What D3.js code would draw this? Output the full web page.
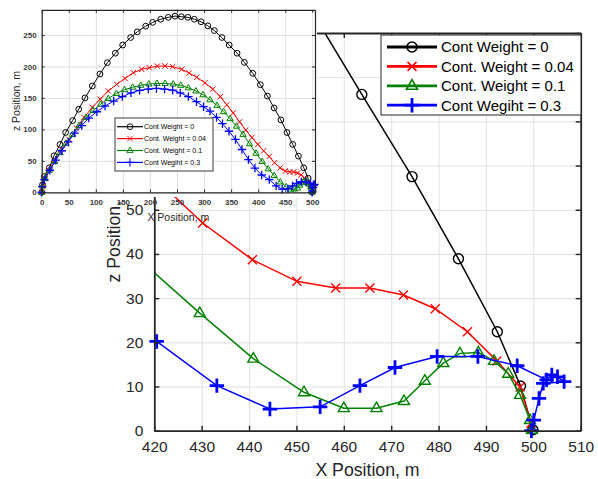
<!DOCTYPE html>
<html>
<head>
<meta charset="utf-8">
<script src="https://cdn.jsdelivr.net/npm/d3@7"></script>
<style>
  body { margin: 0; background: #fff; }
  svg { font-family: "Liberation Sans", Arial, sans-serif; }
</style>
</head>
<body>
<script>
// Trajectoires (x, z) pour chaque poids de contrainte
const blackX = [0, 1.5, 4.8, 14.1, 22.7, 33.8, 44.3, 57.2, 68.4, 80, 93.6, 107.7, 121.3, 136.1, 149.6, 164.4, 176.6, 192.2, 205.1, 219.9, 233.9, 246.3, 258, 270, 282, 294.5, 307, 319, 333, 346.5, 361, 374.5, 390, 404, 417, 429.5, 442, 453.2, 463.8, 474.4, 484.2, 492.4, 497.3, 499.9]
const blackZ = [0, 12, 25, 39, 58, 76, 95, 114, 132, 150, 169, 188, 206, 221, 234, 246, 255, 264, 270, 275, 278, 280, 279, 278, 275, 271, 264.5, 257, 246, 234, 221, 206.5, 189, 171, 153, 134, 115, 95, 76.1, 57.5, 38.9, 22.4, 10.1, 0.2]

const redX = [0, 2, 6, 13, 24.6, 37, 50.4, 64.6, 78.2, 93.6, 108, 123, 138.6, 154, 169.3, 184.8, 198.8, 213.6, 227.8, 242, 258.7, 272.5, 286.4, 301.7, 316, 330, 342, 354, 365.5, 377, 388.5, 399.5, 410, 420.3, 430.2, 440.7, 450.1, 458.3, 465.5, 472.6, 479.3, 486.1, 492.3, 497.2, 499.5]
const redZ = [0, 10, 22, 36, 51, 68, 84, 102, 119, 135, 148, 161, 171.5, 181, 190, 195.5, 198, 200.5, 200.7, 199.6, 195.5, 189.5, 182.7, 174, 164, 152, 139, 126, 112, 99, 87, 76, 66, 57, 47, 38.7, 33.8, 32.3, 32.3, 30.7, 27.6, 22.4, 15.8, 9.9, 1.7]

const greenX = [0, 1.5, 6, 14, 24, 34, 45, 57, 69, 82, 95, 109, 123, 138, 153, 168, 183, 198, 213, 228, 243, 257, 271, 285, 298, 311, 324, 336, 348, 360, 372, 384, 396, 407.5, 418.5, 429.6, 440.9, 451.6, 460, 466.9, 472.7, 477.1, 481, 484.5, 488.4, 491.7, 494.7, 497.2, 499.3, 499.7]
const greenZ = [0, 10, 22, 35, 49, 63, 78, 92, 106, 119, 130, 140, 149, 157, 163, 167, 170, 172, 173, 173, 172, 170, 166, 161, 155, 147, 138, 128, 117, 105, 92, 77, 62, 49, 37.2, 26.6, 16.3, 8.7, 5.1, 5.1, 6.7, 11.3, 15.3, 17.5, 17.7, 15.8, 12.9, 8.1, 2.4, 0.2]

const blueX = [0, 1, 5, 15, 26, 37, 49, 61, 74, 87, 102, 117, 133, 149, 165, 181, 197, 212, 227, 242, 256, 271, 286, 299, 311, 323, 334, 346, 358, 370, 382, 394, 406.5, 420.5, 433.2, 444.4, 455, 463.4, 470.8, 479.7, 488.3, 496.6, 502.8, 503.9, 505.1, 506.5, 502.1, 501.2, 500.1, 499.6]
const blueZ = [0, 9, 20, 35, 51, 66, 80, 94, 106, 118, 128, 137, 145, 152, 158, 162, 164, 165, 164, 162.5, 158, 152, 144, 136, 129, 119, 109, 97, 84, 68, 52, 38.5, 27.5, 20.2, 10.2, 4.9, 5.4, 10.2, 14.3, 16.8, 16.8, 14.7, 11.5, 12.6, 12.2, 11.1, 10.7, 7.3, 2.4, 0]

const seriesNames = ["Cont Weight = 0", "Cont. Weight = 0.04", "Cont. Weight = 0.1", "Cont Wegiht = 0.3"]

// Graduations
const mainXTicks = [420, 430, 440, 450, 460, 470, 480, 490, 500, 510]
const mainZTicks = [0, 10, 20, 30, 40, 50, 60, 70, 80, 90]
const insetXTicks = [0, 50, 100, 150, 200, 250, 300, 350, 400, 450, 500]
const insetZTicks = [0, 50, 100, 150, 200, 250]

const series = [
    { name: seriesNames[0], color: "#000000", marker: "o", x: blackX, z: blackZ },
    { name: seriesNames[1], color: "#ff0000", marker: "x", x: redX, z: redZ },
    { name: seriesNames[2], color: "#008000", marker: "^", x: greenX, z: greenZ },
    { name: seriesNames[3], color: "#0000ff", marker: "+", x: blueX, z: blueZ }
].map(s => ({ ...s, pts: s.x.map((v, i) => [v, s.z[i]]) }))

const svg = d3.select("body").append("svg")
    .attr("width", 598)
    .attr("height", 479)

// Forme des marqueurs
function markerPath(type, r) {
    switch (type) {
        case "o": return `M${r},0A${r},${r} 0 1,1 ${-r},0A${r},${r} 0 1,1 ${r},0Z`
        case "x": return `M${-r},${-r}L${r},${r}M${-r},${r}L${r},${-r}`
        case "^": return `M0,${-r * 1.05}L${r * 0.95},${r * 0.6}L${-r * 0.95},${r * 0.6}Z`
        default: return `M${-r},0L${r},0M0,${-r}L0,${r}`
    }
}

const markerSize = {
    main: { o: 5, x: 4.5, "^": 5.8, "+": 7.2 },
    inset: { o: 2.9, x: 2.7, "^": 3.3, "+": 4.2 }
}

// Dessine une "axes" façon MATLAB
function drawAxes(g, x, y, xTicks, yTicks, o) {
    const [x0, x1] = x.range(), [y0, y1] = y.range()

    // grille
    g.append("g").attr("transform", `translate(0,${y0})`)
        .call(d3.axisBottom(x).tickValues(xTicks).tickSize(-(y0 - y1)).tickFormat(""))
        .call(a => a.select(".domain").remove())
        .selectAll("line").attr("stroke", "#e0e0e0").attr("stroke-width", 1)
    g.append("g").attr("transform", `translate(${x0},0)`)
        .call(d3.axisLeft(y).tickValues(yTicks).tickSize(-(x1 - x0)).tickFormat(""))
        .call(a => a.select(".domain").remove())
        .selectAll("line").attr("stroke", "#e0e0e0").attr("stroke-width", 1)

    // lignes + marqueurs
    const id = "clip-" + o.key
    g.append("clipPath").attr("id", id)
        .append("rect").attr("x", x0).attr("y", y1).attr("width", x1 - x0).attr("height", y0 - y1)

    const line = d3.line().x(d => x(d[0])).y(d => y(d[1]))
    const [dx0, dx1] = x.domain(), [dy0, dy1] = y.domain()

    series.forEach(s => {
        g.append("path")
            .attr("clip-path", `url(#${id})`)
            .attr("d", line(s.pts))
            .attr("fill", "none")
            .attr("stroke", s.color)
            .attr("stroke-width", o.lineWidth)
        g.append("g").selectAll("path")
            .data(s.pts.filter(d => d[0] >= dx0 && d[0] <= dx1 && d[1] >= dy0 && d[1] <= dy1))
            .join("path")
            .attr("transform", d => `translate(${x(d[0])},${y(d[1])})`)
            .attr("d", markerPath(s.marker, o.markers[s.marker]))
            .attr("fill", "none")
            .attr("stroke", s.color)
            .attr("stroke-width", s.marker === "+" ? o.plusWidth : o.markerWidth)
    })

    // axes (ticks vers l'intérieur, sur les quatre côtés)
    const styleAxis = a => {
        a.select(".domain").attr("stroke", "#262626").attr("stroke-width", o.frameWidth)
        a.selectAll(".tick line").attr("stroke", "#262626").attr("stroke-width", o.frameWidth * 0.8)
        a.selectAll("text").attr("fill", o.tickColor)
            .style("font-size", o.tickFont + "px")
            .style("font-weight", o.tickWeight)
    }
    g.append("g").attr("transform", `translate(0,${y0})`)
        .call(d3.axisBottom(x).tickValues(xTicks).tickSizeInner(-o.tick).tickSizeOuter(0).tickPadding(o.xPad))
        .call(styleAxis)
    g.append("g").attr("transform", `translate(${x0},0)`)
        .call(d3.axisLeft(y).tickValues(yTicks).tickSizeInner(-o.tick).tickSizeOuter(0).tickPadding(o.yPad))
        .call(styleAxis)
    g.append("g").attr("transform", `translate(0,${y1})`)
        .call(d3.axisTop(x).tickValues(xTicks).tickSizeInner(-o.tick).tickSizeOuter(0).tickFormat(""))
        .call(styleAxis)
    g.append("g").attr("transform", `translate(${x1},0)`)
        .call(d3.axisRight(y).tickValues(yTicks).tickSizeInner(-o.tick).tickSizeOuter(0).tickFormat(""))
        .call(styleAxis)

    // titres des axes
    g.append("text")
        .attr("x", (x0 + x1) / 2).attr("y", o.xLabelY)
        .attr("text-anchor", "middle")
        .attr("fill", "#262626")
        .style("font-size", o.labelFont + "px")
        .text("X Position, m")
    g.append("text")
        .attr("transform", `translate(${o.yLabelX},${(y0 + y1) / 2}) rotate(-90)`)
        .attr("text-anchor", "middle")
        .attr("fill", "#262626")
        .style("font-size", o.labelFont + "px")
        .text("z Position, m")
}

// Légende
function drawLegend(g, o) {
    g.append("rect")
        .attr("x", o.x).attr("y", o.y).attr("width", o.w).attr("height", o.h)
        .attr("fill", "#fff").attr("stroke", "#262626").attr("stroke-width", o.border)
    series.forEach((s, i) => {
        const cy = o.y + o.first + i * o.step
        g.append("line")
            .attr("x1", o.x + o.l0).attr("x2", o.x + o.l1)
            .attr("y1", cy).attr("y2", cy)
            .attr("stroke", s.color).attr("stroke-width", o.lineWidth)
        g.append("path")
            .attr("transform", `translate(${o.x + (o.l0 + o.l1) / 2},${cy})`)
            .attr("d", markerPath(s.marker, o.markers[s.marker]))
            .attr("fill", "none")
            .attr("stroke", s.color)
            .attr("stroke-width", s.marker === "+" ? o.plusWidth : o.markerWidth)
        g.append("text")
            .attr("x", o.x + o.tx).attr("y", cy).attr("dy", "0.36em")
            .attr("fill", "#000")
            .style("font-size", o.font + "px")
            .text(s.name)
    })
}

/* ------------------------------------------------------------------
    GRAPHE PRINCIPAL (zoom sur la fin de trajectoire)
------------------------------------------------------------------ */
const xMain = d3.scaleLinear().domain([420, 510]).range([154.3, 580.7])
const yMain = d3.scaleLinear().domain([0, 90]).range([430.7, 33])
const gMain = svg.append("g")

drawAxes(gMain, xMain, yMain, mainXTicks, mainZTicks, {
    key: "main", lineWidth: 1.5, markerWidth: 1.4, plusWidth: 2.8, markers: markerSize.main,
    frameWidth: 1.8, tick: 5, tickFont: 15.5, tickColor: "#262626", tickWeight: "normal",
    xPad: 10, yPad: 11, labelFont: 17.7, xLabelY: 476, yLabelX: 119.5
})

drawLegend(gMain, {
    x: 381, y: 35, w: 200, h: 80, border: 1, first: 12, step: 19.4,
    l0: 6, l1: 56, tx: 60, font: 15, lineWidth: 2.8,
    markers: markerSize.main, markerWidth: 1.6, plusWidth: 2.8
})

/* ------------------------------------------------------------------
    ENCART (trajectoire complète)
------------------------------------------------------------------ */
const xInset = d3.scaleLinear().domain([0, 505]).range([41.7, 315])
const yInset = d3.scaleLinear().domain([0, 290]).range([192.3, 9.8])
const gInset = svg.append("g")

gInset.append("rect")
    .attr("x", 0).attr("y", 0).attr("width", 317).attr("height", 197)
    .attr("fill", "#fff")

drawAxes(gInset, xInset, yInset, insetXTicks, insetZTicks, {
    key: "inset", lineWidth: 1, markerWidth: 1, plusWidth: 1.3, markers: markerSize.inset,
    frameWidth: 1.2, tick: 3, tickFont: 8, tickColor: "#3a3a3a", tickWeight: "bold",
    xPad: 7, yPad: 5, labelFont: 10.5, xLabelY: 221, yLabelX: 19.5
})

drawLegend(gInset, {
    x: 115, y: 118, w: 98, h: 53, border: 0.9, first: 8.7, step: 11.9,
    l0: 2, l1: 28, tx: 29, font: 7, lineWidth: 1.2,
    markers: markerSize.inset, markerWidth: 0.9, plusWidth: 1.1
})
</script>
</body>
</html>
